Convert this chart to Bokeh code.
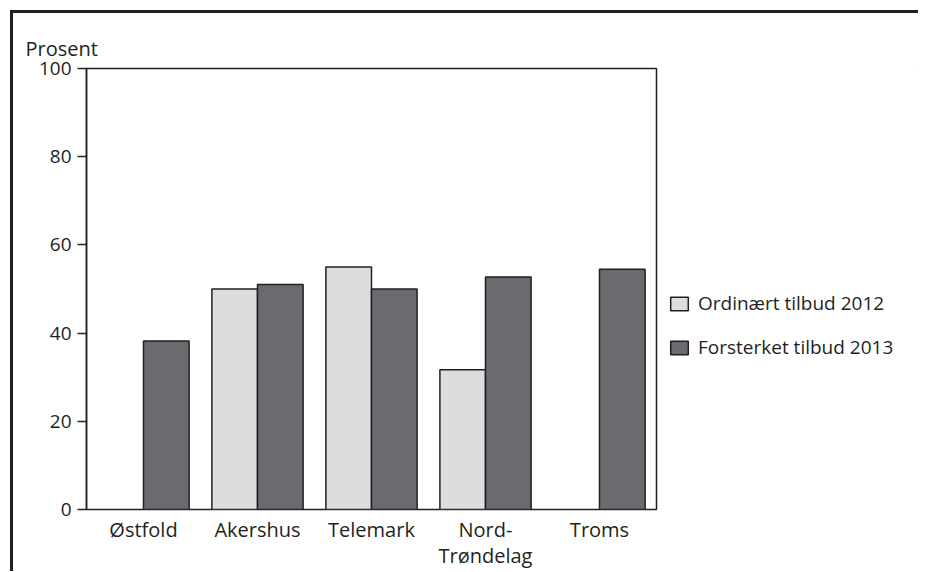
from bokeh.plotting import figure
from bokeh.layouts import row
from bokeh.models import ColumnDataSource, FixedTicker, Legend, LegendItem, Range1d, LinearAxis
from bokeh.embed import file_html
from bokeh.resources import INLINE

categories = ["Østfold", "Akershus", "Telemark", "Nord-\nTrøndelag", "Troms"]
ordinaert_2012 = [None, 50.0, 55.0, 31.7, None]
forsterket_2013 = [38.2, 51.0, 50.0, 52.7, 54.5]
series_names = ["Ordinært tilbud 2012", "Forsterket tilbud 2013"]
y_ticks = [0, 20, 40, 60, 80, 100]
y_label = "Prosent"

FONT = "Open Sans"
INK = "#231f20"
LIGHT = "#dcdddf"
DARK = "#6a6b6f"
H = 558

pos = [i + 0.5 for i in range(len(categories))]
x_light, top_light = [], []
for p_, v in zip(pos, ordinaert_2012):
    if v is not None:
        x_light.append(p_ - 0.2)
        top_light.append(v)
x_dark = [p_ + 0.2 for p_ in pos]

src_light = ColumnDataSource(dict(x=x_light, top=top_light))
src_dark = ColumnDataSource(dict(x=x_dark, top=forsterket_2013))

p = figure(width=645, height=H, output_backend="svg", toolbar_location=None,
           x_range=Range1d(0, len(categories)), y_range=Range1d(0, 100),
           min_border_left=73, min_border_right=2, min_border_top=55, min_border_bottom=0)

p.vbar(x="x", top="top", width=0.4, bottom=0, source=src_light,
       fill_color=LIGHT, line_color=INK, line_width=1.5)
p.vbar(x="x", top="top", width=0.4, bottom=0, source=src_dark,
       fill_color=DARK, line_color=INK, line_width=1.5)

p.grid.visible = False
p.outline_line_color = INK
p.outline_line_width = 1.5

p.title.text = y_label
p.title.align = "left"
p.title.offset = -61
p.title.text_font = FONT
p.title.text_font_size = "20px"
p.title.text_font_style = "normal"
p.title.text_color = INK
p.title.standoff = 14

p.yaxis.ticker = FixedTicker(ticks=y_ticks)
p.yaxis.minor_tick_line_color = None
p.yaxis.major_tick_out = 9
p.yaxis.major_tick_in = 0
p.yaxis.major_tick_line_color = INK
p.yaxis.major_tick_line_width = 1.5
p.yaxis.axis_line_color = INK
p.yaxis.axis_line_width = 1.5
p.yaxis.major_label_text_font = FONT
p.yaxis.major_label_text_font_size = "19px"
p.yaxis.major_label_text_color = INK
p.yaxis.major_label_standoff = 6

first_lines = [c.split("\n")[0] for c in categories]
second_lines = {pp: c.split("\n")[1] for pp, c in zip(pos, categories) if "\n" in c}

p.xaxis.ticker = FixedTicker(ticks=pos)
p.xaxis.major_label_overrides = {pp: c for pp, c in zip(pos, first_lines)}
p.xaxis.major_tick_line_color = None
p.xaxis.minor_tick_line_color = None
p.xaxis.axis_line_color = None
p.xaxis.major_label_text_font = FONT
p.xaxis.major_label_text_font_size = "20px"
p.xaxis.major_label_text_color = INK
p.xaxis.major_label_standoff = 0

ax2 = LinearAxis(ticker=FixedTicker(ticks=list(second_lines.keys())),
                 major_label_overrides=second_lines)
ax2.major_tick_line_color = None
ax2.minor_tick_line_color = None
ax2.axis_line_color = None
ax2.major_label_text_font = FONT
ax2.major_label_text_font_size = "20px"
ax2.major_label_text_color = INK
ax2.major_label_standoff = -10
p.add_layout(ax2, "below")

# legend panel (swatch renderers placed outside the visible range)
lg = figure(width=260, height=H, output_backend="svg", toolbar_location=None,
            x_range=Range1d(0, 1), y_range=Range1d(0, 1),
            min_border_left=0, min_border_right=0, min_border_top=0, min_border_bottom=0)
lg.axis.visible = False
lg.grid.visible = False
lg.outline_line_color = None
off = dict(x=[10], top=[10])
g1 = lg.vbar(x="x", top="top", bottom=9, width=0.1, source=ColumnDataSource(off),
             fill_color=LIGHT, line_color=INK, line_width=1.5)
g2 = lg.vbar(x="x", top="top", bottom=9, width=0.1, source=ColumnDataSource(off),
             fill_color=DARK, line_color=INK, line_width=1.5)
legend = Legend(items=[LegendItem(label=series_names[0], renderers=[g1]),
                       LegendItem(label=series_names[1], renderers=[g2])],
                location=(10, 149), orientation="vertical")
legend.border_line_color = None
legend.background_fill_alpha = 0
legend.margin = 0
legend.padding = 0
legend.glyph_width = 22
legend.glyph_height = 17
legend.label_standoff = 8
legend.spacing = 18
legend.label_text_font = FONT
legend.label_text_font_size = "19px"
legend.label_text_color = INK
lg.add_layout(legend)

layout = row(p, lg)
layout.styles = {"border-left": f"3px solid {INK}", "border-top": f"3px solid {INK}",
                 "margin-left": "10px", "margin-top": "10px"}

open("out.html", "w").write(file_html(layout, INLINE))
